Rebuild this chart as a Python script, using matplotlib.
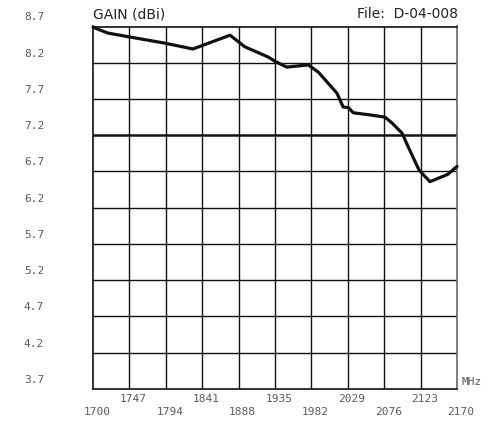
import matplotlib
matplotlib.use("Agg")
import matplotlib.pyplot as plt
import matplotlib.transforms as mtransforms
import numpy as np

# Data
freq_mhz = [1700, 1719, 1745, 1793, 1829, 1877, 1896, 1926, 1935, 1950, 1978, 1991,
            2015, 2023, 2030, 2036, 2058, 2077, 2086, 2099, 2107, 2121, 2135, 2158, 2170]
gain_dbi = [8.69, 8.61, 8.56, 8.47, 8.39, 8.58, 8.42, 8.28, 8.22, 8.14, 8.17, 8.07,
            7.78, 7.59, 7.58, 7.51, 7.48, 7.45, 7.37, 7.23, 7.04, 6.72, 6.56, 6.66, 6.77]
x_ticks = [1700, 1747, 1794, 1841, 1888, 1935, 1982, 2029, 2076, 2123, 2170]
y_ticks = [3.7, 4.2, 4.7, 5.2, 5.7, 6.2, 6.7, 7.2, 7.7, 8.2, 8.7]
title_left = "GAIN (dBi)"
title_right = "File:  D-04-008"
x_unit = "MHz"

W, H = 495, 421
fig = plt.figure(figsize=(W / 100, H / 100), dpi=100)
left, right, top, bottom = 93, 457, 26.5, 389
ax = fig.add_axes([left / W, 1 - bottom / H, (right - left) / W, (bottom - top) / H])
ax.set_xlim(x_ticks[0], x_ticks[-1])
ax.set_ylim(y_ticks[0], y_ticks[-1])

grid_col = "#111111"
for xv in x_ticks[1:-1]:
    ax.axvline(xv, color=grid_col, lw=1.0, zorder=1)
for yv in y_ticks[1:-1]:
    ax.axhline(yv, color=grid_col, lw=1.8 if abs(yv - 7.2) < 1e-6 else 1.0, zorder=1)
for s in ax.spines.values():
    s.set_color(grid_col)
    s.set_linewidth(1.2)
ax.spines["right"].set_color("#666666")
ax.set_xticks([])
ax.set_yticks([])

ax.plot(freq_mhz, gain_dbi, color="#111111", lw=2.3, solid_joinstyle="round",
        solid_capstyle="round", zorder=3, clip_on=False)

mono = dict(family="DejaVu Sans Mono", fontsize=8, color="#5a5a5a")
# y labels (offset above grid lines)
ytrans = mtransforms.blended_transform_factory(fig.transFigure, ax.transData) + \
    mtransforms.ScaledTranslation(0, 9 / 100, fig.dpi_scale_trans)
for yv in y_ticks:
    ax.text(34 / W, yv, f"{yv:.1f}", transform=ytrans, ha="center", va="center", **mono)

# x labels, staggered
for i, xv in enumerate(x_ticks):
    ypix = 412 if i % 2 == 0 else 399
    xtrans = mtransforms.blended_transform_factory(ax.transData, fig.transFigure) + \
        mtransforms.ScaledTranslation(4 / 100, 0, fig.dpi_scale_trans)
    ax.text(xv, 1 - ypix / H, str(xv), transform=xtrans, ha="center", va="center", **mono)

fig.text(461 / W, 1 - 382 / H, x_unit, ha="left", va="center", **mono)

fig.text(93 / W, 1 - 14 / H, title_left, ha="left", va="center",
         family="DejaVu Sans", fontsize=10, color="#222222")
fig.text(458 / W, 1 - 14 / H, title_right, ha="right", va="center",
         family="DejaVu Sans", fontsize=10, color="#222222")

fig.savefig("out.png", dpi=100)
